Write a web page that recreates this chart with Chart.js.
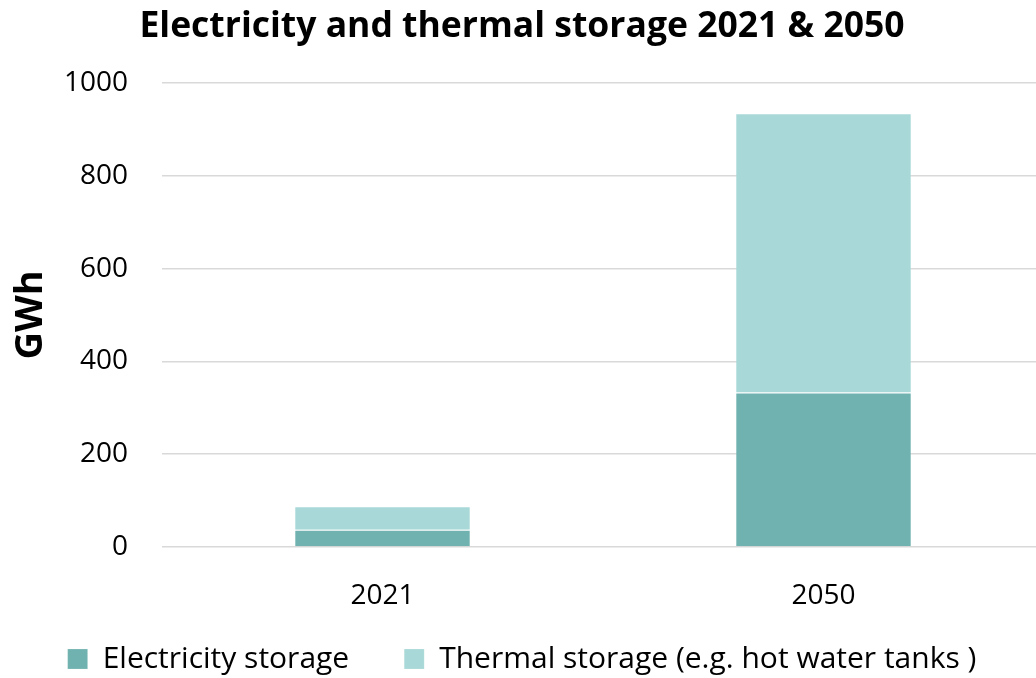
<!DOCTYPE html>
<html>
<head>
<meta charset="utf-8">
<script src="https://cdn.jsdelivr.net/npm/chart.js@4/dist/chart.umd.min.js"></script>
<style>
  html, body { margin: 0; padding: 0; background: #fff; overflow: hidden; }
  #wrap { width: 1044px; height: 678px; }
</style>
</head>
<body>
<div id="wrap"><canvas id="chart" width="1044" height="678"></canvas></div>
<script>
// Storage capacity in GWh per year
const years = ['2021', '2050'];
const electricityStorage = [37, 333];
const thermalStorage = [51, 602];
const yAxisTicks = [0, 200, 400, 600, 800, 1000];
const seriesNames = ['Electricity storage', 'Thermal storage (e.g. hot water tanks )'];
const seriesColors = ['#70b2af', '#a8d8d7'];

const FONT = "'Open Sans', 'Noto Sans', sans-serif";
const TEXT = '#000000';

Chart.defaults.font.family = FONT;
Chart.defaults.color = TEXT;

// The category labels sit partly beside the legend row; let them draw below the axis box.
const xLabelRoom = {
  id: 'xLabelRoom',
  afterLayout(chart) {
    chart.scales.x.bottom = chart.height;
  }
};

new Chart(document.getElementById('chart'), {
  type: 'bar',
  data: {
    labels: years,
    datasets: [
      {
        label: seriesNames[0],
        data: electricityStorage,
        backgroundColor: seriesColors[0],
        borderColor: 'rgba(255,255,255,0.18)',
        borderWidth: 1,
        categoryPercentage: 1,
        barPercentage: 0.4
      },
      {
        label: seriesNames[1],
        data: thermalStorage,
        backgroundColor: seriesColors[1],
        borderColor: 'rgba(255,255,255,0.18)',
        borderWidth: 1,
        categoryPercentage: 1,
        barPercentage: 0.4
      }
    ]
  },
  plugins: [xLabelRoom],
  options: {
    responsive: false,
    animation: false,
    devicePixelRatio: 1,
    layout: { padding: { left: 0, right: 0, top: 0, bottom: -6 } },
    plugins: {
      title: {
        display: true,
        text: 'Electricity and thermal storage 2021 & 2050',
        font: { family: FONT, size: 35.5, weight: 'bold' },
        color: TEXT,
        padding: { top: 5.7, bottom: 34.7 }
      },
      legend: {
        position: 'bottom',
        labels: {
          font: { family: FONT, size: 30 },
          color: TEXT,
          boxWidth: 20,
          boxHeight: 20,
          padding: 55
        }
      },
      tooltip: { enabled: false }
    },
    scales: {
      x: {
        stacked: true,
        grid: { display: false },
        border: { display: false },
        ticks: {
          font: { family: FONT, size: 28 },
          color: TEXT,
          padding: 24
        },
        afterFit: (s) => { s.height = 42; }
      },
      y: {
        stacked: true,
        min: 0,
        max: 1000,
        afterBuildTicks: (s) => { s.ticks = yAxisTicks.map(v => ({ value: v })); },
        ticks: {
          font: { family: FONT, size: 28 },
          color: TEXT,
          padding: 34,
          callback: (v) => String(v)
        },
        grid: { color: '#d9d9d9', lineWidth: 1.5, drawTicks: false },
        border: { display: false },
        title: {
          display: true,
          text: 'GWh',
          font: { family: FONT, size: 38, weight: 'bold' },
          color: TEXT,
          padding: { top: 8, bottom: 0 }
        },
        afterFit: (s) => { s.width = 162; }
      }
    }
  }
});
</script>
</body>
</html>
